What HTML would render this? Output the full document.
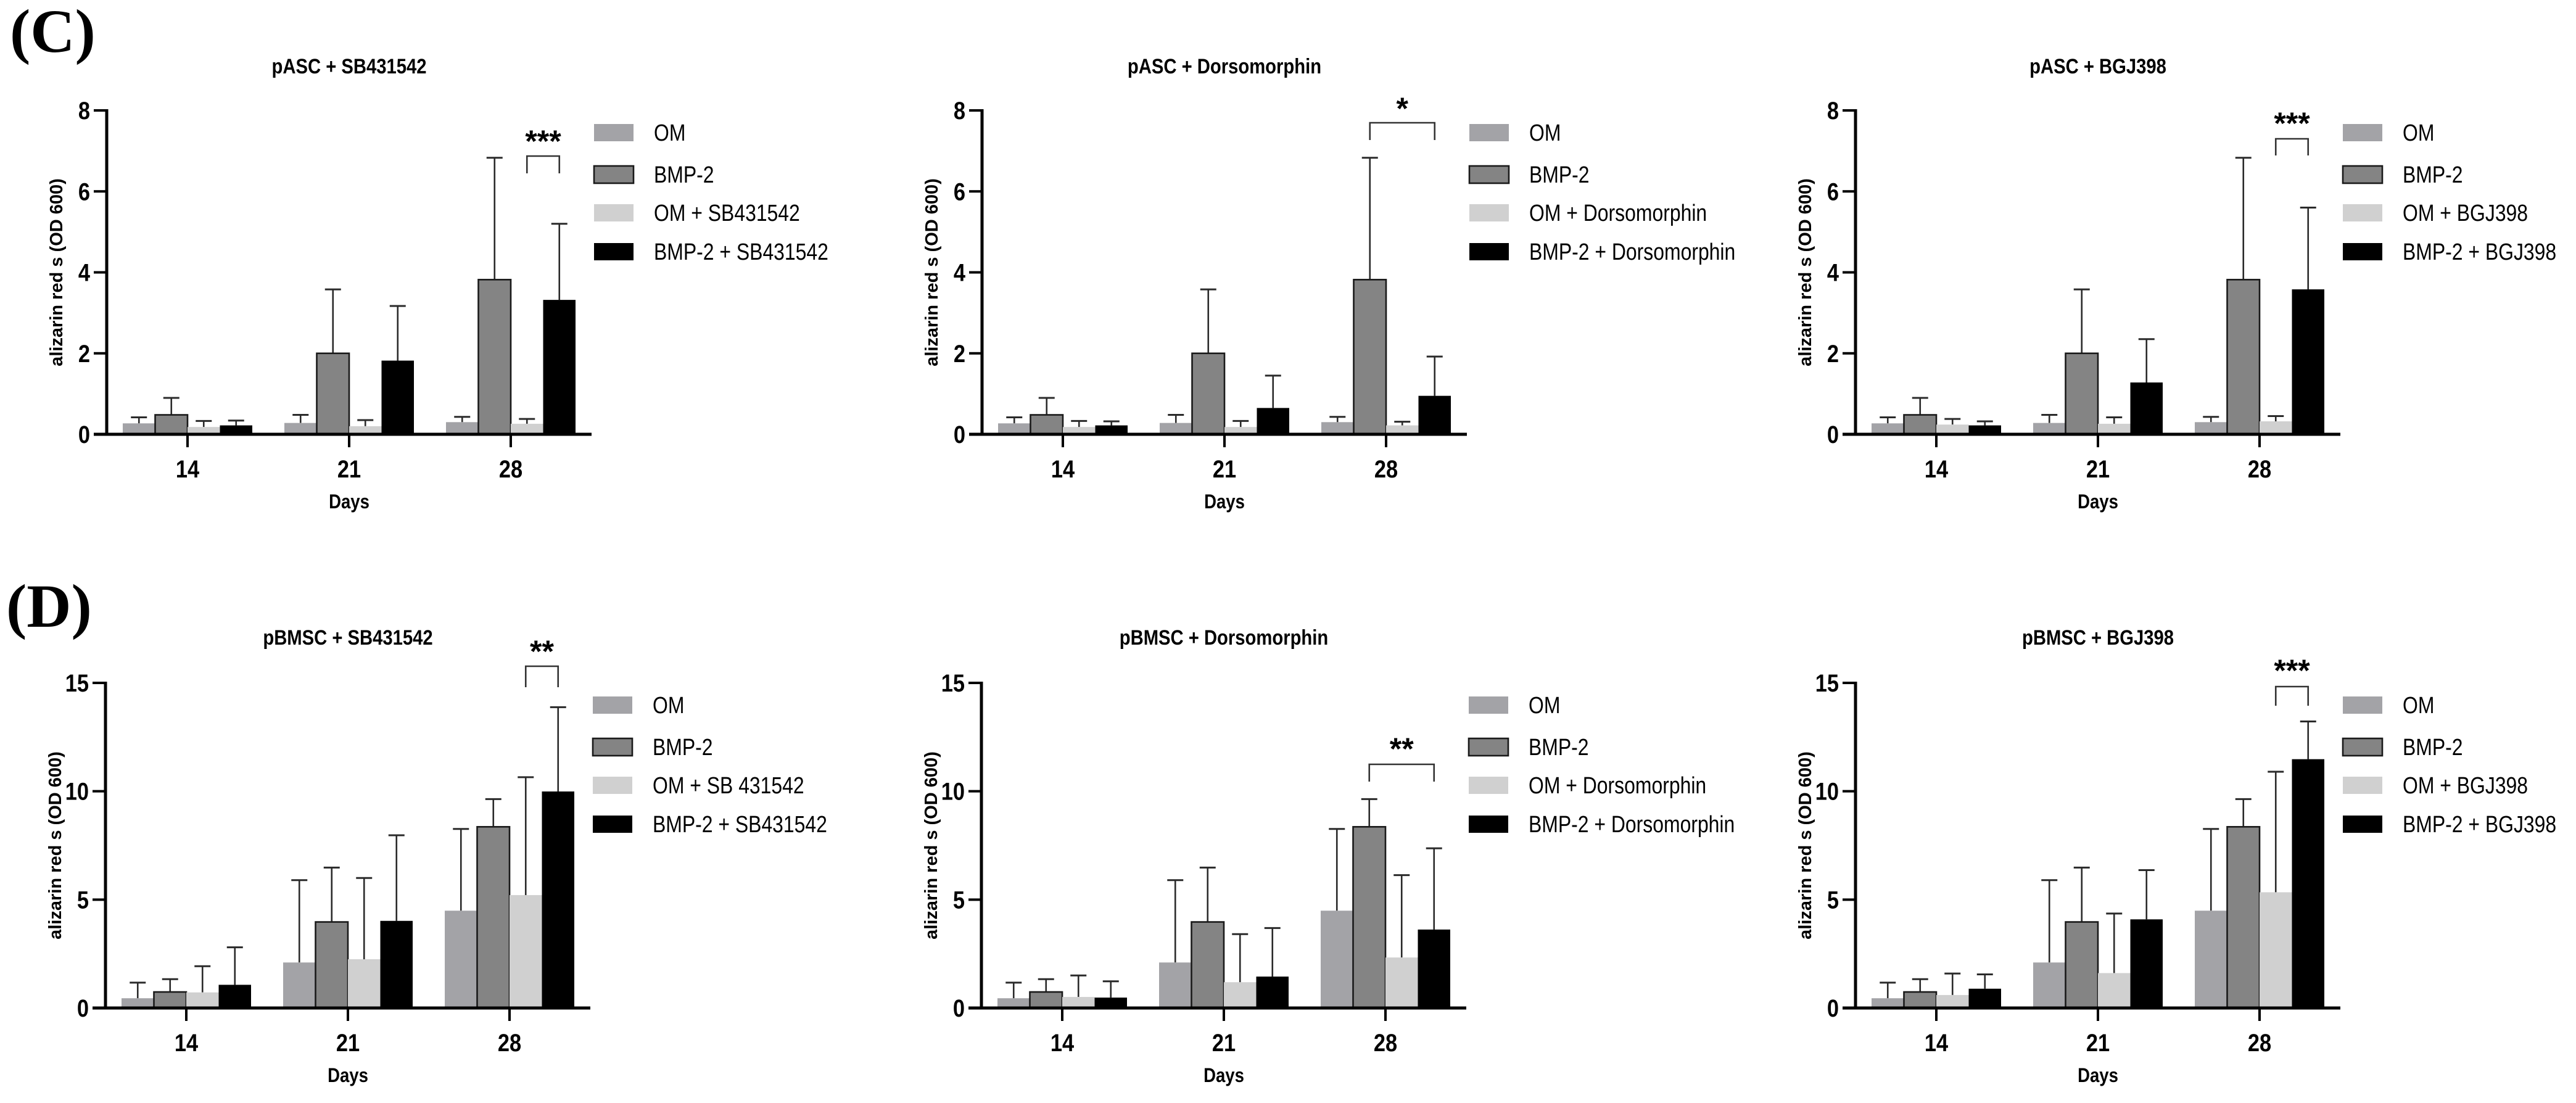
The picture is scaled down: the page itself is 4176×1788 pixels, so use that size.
<!DOCTYPE html>
<html><head><meta charset="utf-8">
<style>
html,body{margin:0;padding:0;background:#fff;}
svg{display:block;}
text{font-family:"Liberation Sans Narrow","Liberation Sans",Arial,sans-serif;}
.lbl{font-family:"Liberation Serif","Times New Roman",serif;font-weight:bold;}
</style></head>
<body>
<svg id="fig" width="4176" height="1788" viewBox="0 0 4176 1788" xmlns="http://www.w3.org/2000/svg">
<rect width="4176" height="1788" fill="#fff"/>
<text class="lbl" x="16" y="84" font-size="100">(C)</text>
<text class="lbl" x="10" y="1016" font-size="100">(D)</text>
</svg>
<script>
const days = ["14","21","28"];
const ticksC = [0,2,4,6,8];
const ticksD = [0,5,10,15];
// pASC common series
const cOM = [0.27,0.28,0.30];
const cOMerr = [0.42,0.48,0.43];
const cBMP = [0.48,2.0,3.82];
const cBMPerr = [0.90,3.58,6.83];
// pASC + SB431542
const cSB_OM = [0.18,0.20,0.26];
const cSB_OMerr = [0.33,0.35,0.38];
const cSB_BMP = [0.22,1.82,3.32];
const cSB_BMPerr = [0.34,3.17,5.20];
// pASC + Dorsomorphin
const cDM_OM = [0.18,0.18,0.22];
const cDM_OMerr = [0.33,0.33,0.31];
const cDM_BMP = [0.22,0.65,0.95];
const cDM_BMPerr = [0.32,1.45,1.92];
// pASC + BGJ398
const cBG_OM = [0.24,0.26,0.32];
const cBG_OMerr = [0.38,0.42,0.45];
const cBG_BMP = [0.22,1.28,3.58];
const cBG_BMPerr = [0.32,2.35,5.60];
// pBMSC common series
const dOM = [0.45,2.10,4.49];
const dOMerr = [1.17,5.90,8.26];
const dBMP = [0.74,3.97,8.36];
const dBMPerr = [1.33,6.48,9.64];
// pBMSC + SB431542
const dSB_OM = [0.72,2.25,5.21];
const dSB_OMerr = [1.93,6.00,10.65];
const dSB_BMP = [1.07,4.02,9.99];
const dSB_BMPerr = [2.80,7.97,13.88];
// pBMSC + Dorsomorphin
const dDM_OM = [0.51,1.19,2.33];
const dDM_OMerr = [1.50,3.41,6.13];
const dDM_BMP = [0.48,1.45,3.62];
const dDM_BMPerr = [1.23,3.69,7.37];
// pBMSC + BGJ398
const dBG_OM = [0.60,1.61,5.34];
const dBG_OMerr = [1.59,4.36,10.90];
const dBG_BMP = [0.89,4.09,11.48];
const dBG_BMPerr = [1.55,6.36,13.22];

const legC1 = ["OM","BMP-2","OM + SB431542","BMP-2 + SB431542"];
const legC2 = ["OM","BMP-2","OM + Dorsomorphin","BMP-2 + Dorsomorphin"];
const legC3 = ["OM","BMP-2","OM + BGJ398","BMP-2 + BGJ398"];
const legD1 = ["OM","BMP-2","OM + SB 431542","BMP-2 + SB431542"];
const legD2 = legC2;
const legD3 = legC3;

const fills = ["#a3a3a7","#848484","#d0d0d0","#000000"];
const NS = "http://www.w3.org/2000/svg";
const svg = document.getElementById('fig');
function mk(tag, attrs, parent){
  const e = document.createElementNS(NS, tag);
  for (const k in attrs) e.setAttribute(k, attrs[k]);
  (parent||svg).appendChild(e);
  return e;
}
function txt(parent, x, y, fs, sx, anchor, bold, str){
  const e = mk('text', {x:0, y:0, 'font-size':fs, 'text-anchor':anchor, transform:'translate('+x+' '+y+') scale('+sx+' 1)'}, parent);
  if (bold) e.setAttribute('font-weight','bold');
  e.textContent = str;
  return e;
}

const charts = [
  {name:"pasc-sb431542", title:"pASC + SB431542", ox:173, top:179, base:704, max:8, ticks:ticksC, means:[cOM,cBMP,cSB_OM,cSB_BMP], errs:[cOMerr,cBMPerr,cSB_OMerr,cSB_BMPerr], leg:legC1, sig:"***", br:[2,3], brTop:253, brBot:281, starY:220, titleY:119},
  {name:"pasc-dorsomorphin", title:"pASC + Dorsomorphin", ox:1592, top:179, base:704, max:8, ticks:ticksC, means:[cOM,cBMP,cDM_OM,cDM_BMP], errs:[cOMerr,cBMPerr,cDM_OMerr,cDM_BMPerr], leg:legC2, sig:"*", br:[1,3], brTop:199, brBot:227, starY:167, titleY:119},
  {name:"pasc-bgj398", title:"pASC + BGJ398", ox:3008, top:179, base:704, max:8, ticks:ticksC, means:[cOM,cBMP,cBG_OM,cBG_BMP], errs:[cOMerr,cBMPerr,cBG_OMerr,cBG_BMPerr], leg:legC3, sig:"***", br:[2,3], brTop:225, brBot:252, starY:191, titleY:119},
  {name:"pbmsc-sb431542", title:"pBMSC + SB431542", ox:171, top:1107, base:1634, max:15, ticks:ticksD, means:[dOM,dBMP,dSB_OM,dSB_BMP], errs:[dOMerr,dBMPerr,dSB_OMerr,dSB_BMPerr], leg:legD1, sig:"**", br:[2,3], brTop:1080, brBot:1114, starY:1047, titleY:1045},
  {name:"pbmsc-dorsomorphin", title:"pBMSC + Dorsomorphin", ox:1591, top:1107, base:1634, max:15, ticks:ticksD, means:[dOM,dBMP,dDM_OM,dDM_BMP], errs:[dOMerr,dBMPerr,dDM_OMerr,dDM_BMPerr], leg:legD2, sig:"**", br:[1,3], brTop:1239, brBot:1267, starY:1205, titleY:1045},
  {name:"pbmsc-bgj398", title:"pBMSC + BGJ398", ox:3008, top:1107, base:1634, max:15, ticks:ticksD, means:[dOM,dBMP,dBG_OM,dBG_BMP], errs:[dOMerr,dBMPerr,dBG_OMerr,dBG_BMPerr], leg:legD3, sig:"***", br:[2,3], brTop:1113, brBot:1144, starY:1078, titleY:1045}
];

const PW = 786, GAP = 262, BW = 52.5;
charts.forEach(c => {
  const g = mk('g', {});
  
  
  const yS = v => c.base - (v / c.max) * (c.base - c.top);
  const gx = i => c.ox + GAP/2 + i*GAP;
  const bx = (i, s) => gx(i) - 2*BW + s*BW;

  const t = txt(g, c.ox+PW/2, c.titleY, 34, 0.86, 'middle', true, c.title);
  
  

  c.means.forEach((arr, s) => {
    arr.forEach((v, i) => {
      const x = bx(i, s);
      const eTop = yS(c.errs[s][i]);
      const cx = x + BW/2;
      const el = mk('line', {x1:cx, x2:cx, y1:yS(v), y2:eTop, stroke:'#2a2a2a', 'stroke-width':2.6}, g);
      
      
      const cap = mk('line', {x1:cx-13, x2:cx+13, y1:eTop, y2:eTop, stroke:'#2a2a2a', 'stroke-width':3}, g);
      
      
      const attrs = {x:x, y:yS(v), width:BW, height:c.base - yS(v), fill:fills[s]};
      if (s === 1) { attrs.stroke = '#1a1a1a'; attrs['stroke-width'] = 2.6; }
      const r = mk('rect', attrs, g);
      
      
    });
  });

  const ya = mk('line', {x1:c.ox, x2:c.ox, y1:c.top-2, y2:c.base+2, stroke:'#000', 'stroke-width':5}, g);
  
  
  const xa = mk('line', {x1:c.ox-21, x2:c.ox+PW, y1:c.base, y2:c.base, stroke:'#000', 'stroke-width':5}, g);
  
  
  c.ticks.forEach(tv => {
    const y = yS(tv);
    const tl = mk('line', {x1:c.ox-21, x2:c.ox, y1:y, y2:y, stroke:'#000', 'stroke-width':4}, g);
    
    
    const tt = txt(g, c.ox-27, y+14, 40, 0.86, 'end', true, String(tv));
    
    
  });
  days.forEach((d, i) => {
    const x = gx(i);
    const tl = mk('line', {x1:x, x2:x, y1:c.base, y2:c.base+21, stroke:'#000', 'stroke-width':4}, g);
    
    
    const tt = txt(g, x, c.base+70, 40, 0.86, 'middle', true, d);
    
    
  });
  const xt = txt(g, c.ox+PW/2, c.base+120, 32, 0.86, 'middle', true, 'Days');
  
  
  const cy = (c.top + c.base)/2;
  const yt = mk('text', {x:0, y:0, 'font-size':29, 'font-weight':'bold', 'text-anchor':'middle', transform:'translate('+(c.ox-72)+' '+cy+') rotate(-90)', 'font-family':'"Liberation Sans",Arial,sans-serif'}, g);
  yt.textContent = 'alizarin red s (OD 600)';
  
  

  const x1 = bx(2, c.br[0]) + BW/2, x2 = bx(2, c.br[1]) + BW/2;
  const br = mk('polyline', {points: x1+','+c.brBot+' '+x1+','+c.brTop+' '+x2+','+c.brTop+' '+x2+','+c.brBot, fill:'none', stroke:'#333', 'stroke-width':2.6}, g);
  
  
  const st = mk('text', {x:(x1+x2)/2, y:c.starY+26, 'font-size':50, 'font-weight':'bold', 'text-anchor':'middle', 'font-family':'"Liberation Sans",Arial,sans-serif'}, g);
  st.textContent = c.sig;
  
  

  const offs = [36,104,166,229];
  c.leg.forEach((lab, s) => {
    const y = c.top + offs[s];
    const ra = {x:c.ox+790, y:y-14, width:64, height:28, fill:fills[s]};
    if (s === 1) { ra.stroke = '#1a1a1a'; ra['stroke-width'] = 2.6; }
    const sw = mk('rect', ra, g);
    
    
    const lt = txt(g, c.ox+887, y+13, 38, 0.84, 'start', false, lab);
    
    
  });
});
</script>
</body></html>
